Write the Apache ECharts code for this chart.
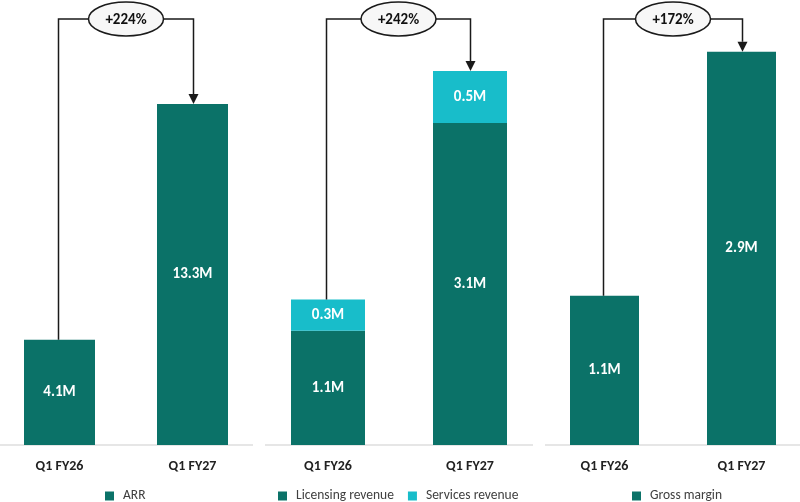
<!DOCTYPE html>
<html>
<head>
<meta charset="utf-8">
<script src="https://cdn.jsdelivr.net/npm/echarts@6/dist/echarts.min.js"></script>
<style>html,body{margin:0;padding:0;background:#fff;}#c{width:800px;height:502px;}</style>
</head>
<body>
<div id="c"></div>
<script>
const categories = ['Q1 FY26', 'Q1 FY27'];
const arr = [4.1, 13.3];
const licensing = [1.1, 3.1];
const services = [0.3, 0.5];
const grossMargin = [1.1, 2.9];
const growthLabels = ['+224%', '+242%', '+172%'];
const seriesNames = ['ARR', 'Licensing revenue', 'Services revenue', 'Gross margin'];

const FONT = 'Carlito, Lato, "Open Sans", sans-serif';
const TEAL = '#0B7268';
const CYAN = '#18BDCA';

const chart = echarts.init(document.getElementById('c'), null, {renderer: 'canvas'});

const grids = [
  {left: -7, width: 266, top: 45, bottom: 57, outerBoundsMode: 'none', containLabel: false},
  {left: 257, width: 284, top: 45, bottom: 57, outerBoundsMode: 'none', containLabel: false},
  {left: 536, width: 274, top: 45, bottom: 57, outerBoundsMode: 'none', containLabel: false}
];
const yMax = [15.6, 3.85, 2.95];

const barLabel = {
  show: true, position: 'inside', color: '#fff',
  fontFamily: FONT, fontWeight: 'bold', fontSize: 15,
  formatter: p => p.value.toFixed(1) + 'M'
};

const legendText = {color: '#404040', fontSize: 13.5, fontFamily: FONT, padding: [0, 0, 0, 4]};

const option = {
  animation: false,
  backgroundColor: '#fff',
  textStyle: {fontFamily: FONT},
  grid: grids,
  xAxis: grids.map((g, i) => ({
    type: 'category', gridIndex: i, data: categories,
    axisLine: {show: false}, axisTick: {show: false},
    axisLabel: {color: '#222', fontFamily: FONT, fontWeight: 'bold', fontSize: 14, margin: 14}
  })),
  yAxis: grids.map((g, i) => ({
    type: 'value', gridIndex: i, min: 0, max: yMax[i], show: false, splitLine: {show: false}
  })),
  legend: [
    {data: [seriesNames[0]], left: 105, top: 489, padding: 0, icon: 'rect', itemWidth: 9, itemHeight: 9, itemGap: 17, textStyle: legendText},
    {data: [seriesNames[1], seriesNames[2]], left: 278, top: 489, padding: 0, icon: 'rect', itemWidth: 9, itemHeight: 9, itemGap: 14, textStyle: legendText},
    {data: [seriesNames[3]], left: 632, top: 489, padding: 0, icon: 'rect', itemWidth: 9, itemHeight: 9, itemGap: 17, textStyle: legendText}
  ],
  series: [
    {name: seriesNames[0], type: 'bar', xAxisIndex: 0, yAxisIndex: 0, data: arr, barWidth: 71,
     itemStyle: {color: TEAL}, label: barLabel},
    {name: seriesNames[1], type: 'bar', xAxisIndex: 1, yAxisIndex: 1, data: licensing, barWidth: 74, stack: 'rev',
     itemStyle: {color: TEAL}, label: barLabel},
    {name: seriesNames[2], type: 'bar', xAxisIndex: 1, yAxisIndex: 1, data: services, barWidth: 74, stack: 'rev',
     itemStyle: {color: CYAN}, label: barLabel},
    {name: seriesNames[3], type: 'bar', xAxisIndex: 2, yAxisIndex: 2, data: grossMargin, barWidth: 69,
     itemStyle: {color: TEAL}, label: barLabel}
  ]
};
chart.setOption(option);

// annotations: baselines and growth connectors
const baselines = [[0, 253], [265, 533], [545, 800]];
const totals = [
  arr,
  licensing.map((v, i) => v + services[i]),
  grossMargin
];
const graphics = [];
const baseY = 445;
baselines.forEach(b => {
  graphics.push({type: 'line', shape: {x1: b[0], y1: baseY, x2: b[1], y2: baseY},
    style: {stroke: '#dedede', lineWidth: 1.5}, z: 1});
});
const bubbleY = 19, rx = 37.5, ry = 17, ah = 10, aw = 5;
totals.forEach((t, p) => {
  const a = chart.convertToPixel({gridIndex: p}, [0, t[0]]);
  const b = chart.convertToPixel({gridIndex: p}, [1, t[1]]);
  const x1 = Math.round(a[0]) - 1.5, x2 = Math.round(b[0]) + 0.5;
  const cx = (x1 + x2) / 2;
  const stroke = {stroke: '#1a1a1a', lineWidth: 1.5, fill: null};
  graphics.push({type: 'polyline', z: 10, shape: {points: [[x1, a[1]], [x1, bubbleY], [cx - rx, bubbleY]]}, style: stroke});
  graphics.push({type: 'polyline', z: 10, shape: {points: [[cx + rx, bubbleY], [x2, bubbleY], [x2, b[1] - ah]]}, style: stroke});
  graphics.push({type: 'polygon', z: 10, shape: {points: [[x2 - aw, b[1] - ah], [x2 + aw, b[1] - ah], [x2, b[1]]]},
    style: {fill: '#1a1a1a'}});
  graphics.push({type: 'ellipse', z: 11, shape: {cx: cx, cy: bubbleY, rx: rx, ry: ry},
    style: {fill: '#f7f7f7', stroke: '#1a1a1a', lineWidth: 1.5}});
  graphics.push({type: 'text', z: 12, style: {text: growthLabels[p], x: cx, y: bubbleY + 1, align: 'center', verticalAlign: 'middle',
    font: 'bold 15px ' + FONT, fill: '#111'}});
});
chart.setOption({graphic: graphics});
</script>
</body>
</html>
